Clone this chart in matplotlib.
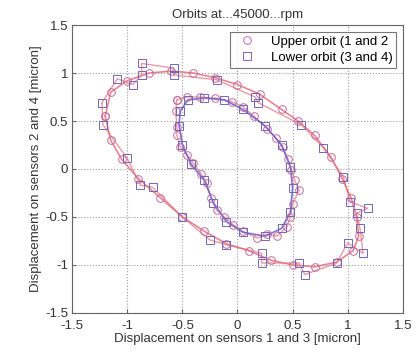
import matplotlib
matplotlib.use("Agg")
import matplotlib.pyplot as plt

# Upper orbit (sensors 1 and 2) - outer and inner loops
upper_outer_x = [-1.20, -1.15, -1.00, -0.80, -0.60, -0.40, -0.20, 0.00, 0.20, 0.40, 0.55, 0.70, 0.85, 0.95, 1.03, 1.08, 1.10, 1.05, 0.90, 0.70, 0.50, 0.30, 0.10, -0.10, -0.30, -0.50, -0.70, -0.90, -1.05, -1.15, -1.20]
upper_outer_y = [0.55, 0.80, 0.92, 1.00, 1.02, 1.00, 0.95, 0.88, 0.78, 0.62, 0.50, 0.35, 0.12, -0.10, -0.30, -0.50, -0.70, -0.85, -0.97, -1.02, -1.00, -0.95, -0.85, -0.78, -0.65, -0.50, -0.30, -0.10, 0.10, 0.30, 0.55]
upper_inner_x = [-0.55, -0.46, -0.34, -0.20, -0.05, 0.05, 0.15, 0.27, 0.35, 0.41, 0.46, 0.49, 0.52, 0.56, 0.50, 0.48, 0.45, 0.36, 0.27, 0.18, 0.05, -0.04, -0.12, -0.19, -0.24, -0.28, -0.33, -0.40, -0.46, -0.52, -0.55, -0.55, -0.56, -0.55]
upper_inner_y = [0.72, 0.75, 0.75, 0.74, 0.70, 0.65, 0.55, 0.42, 0.32, 0.23, 0.10, -0.01, -0.12, -0.22, -0.36, -0.50, -0.60, -0.70, -0.68, -0.72, -0.65, -0.58, -0.50, -0.43, -0.30, -0.15, -0.05, 0.06, 0.15, 0.23, 0.35, 0.44, 0.60, 0.72]

# Lower orbit (sensors 3 and 4) - outer and inner loops
lower_outer_x = [-1.23, -1.09, -0.95, -0.87, -0.87, -0.58, -0.58, -0.19, 0.16, 0.19, 0.58, 0.78, 0.96, 1.02, 1.18, 1.08, 1.11, 1.14, 1.00, 0.90, 0.61, 0.56, 0.22, 0.22, -0.10, -0.25, -0.50, -0.77, -0.88, -1.00, -1.22, -1.23]
lower_outer_y = [0.69, 0.94, 0.88, 0.98, 1.10, 1.05, 0.98, 0.93, 0.75, 0.69, 0.46, 0.22, -0.08, -0.34, -0.41, -0.46, -0.61, -0.88, -0.77, -0.98, -1.10, -0.98, -0.98, -0.88, -0.79, -0.74, -0.50, -0.19, -0.17, 0.11, 0.46, 0.69]
lower_inner_x = [-0.52, -0.45, -0.30, -0.12, 0.05, 0.25, 0.40, 0.48, 0.50, 0.48, 0.40, 0.25, 0.05, -0.10, -0.22, -0.30, -0.42, -0.50, -0.53, -0.52]
lower_inner_y = [0.60, 0.72, 0.74, 0.72, 0.62, 0.45, 0.25, 0.02, -0.20, -0.45, -0.62, -0.70, -0.66, -0.55, -0.35, -0.12, 0.05, 0.25, 0.45, 0.60]

title = "Orbits at...45000...rpm"
xlabel = "Displacement on sensors 1 and 3 [micron]"
ylabel = "Displacement on sensors 2 and 4 [micron]"
ticks = [-1.5, -1, -0.5, 0, 0.5, 1, 1.5]
tick_labels = ["-1.5", "-1", "-0.5", "0", "0.5", "1", "1.5"]

plt.rcParams['font.family'] = ['Liberation Sans', 'DejaVu Sans']
fig = plt.figure(figsize=(4.17, 3.58), dpi=100)
ax = fig.add_axes([0.173, 0.126, 0.793, 0.804])

circ_col = "#c86a9a"
sq_col = "#7565b5"
red_line = "#e07080"
blue_line = "#5a5ad0"

ax.plot(upper_outer_x, upper_outer_y, color=red_line, lw=1.2, alpha=0.85, zorder=2)
ax.plot(lower_outer_x, lower_outer_y, color=red_line, lw=1.0, alpha=0.7, zorder=2)
ax.plot(upper_inner_x, upper_inner_y, color=red_line, lw=1.0, alpha=0.7, zorder=2)
ax.plot(lower_inner_x, lower_inner_y, color=blue_line, lw=1.2, alpha=0.85, zorder=2)

ax.plot(upper_outer_x + upper_inner_x, upper_outer_y + upper_inner_y, 'o', ls='none',
        mfc='none', mec=circ_col, ms=5.5, mew=0.7, label="Upper orbit (1 and 2", zorder=3)
ax.plot(lower_outer_x + lower_inner_x, lower_outer_y + lower_inner_y, 's', ls='none',
        mfc='none', mec=sq_col, ms=6, mew=0.7, label="Lower orbit (3 and 4)", zorder=3)

fs = 9.5
ax.set_xlim(-1.5, 1.5)
ax.set_ylim(-1.5, 1.5)
ax.set_xticks(ticks)
ax.set_xticklabels(tick_labels)
ax.set_yticks(ticks)
ax.set_yticklabels(tick_labels)
ax.grid(True, ls=':', color='#999999', lw=0.8)
ax.tick_params(labelsize=fs, direction='in', length=3, color='#666666', labelcolor='#333333')
ax.tick_params(axis='x', pad=5)
ax.tick_params(axis='y', pad=3)
for s in ax.spines.values():
    s.set_color('#666666')
    s.set_linewidth(0.8)

ax.set_title(title, fontsize=fs, color='#333333', pad=5)
ax.set_xlabel(xlabel, fontsize=fs, color='#333333', labelpad=1)
ax.set_ylabel(ylabel, fontsize=fs, color='#333333', labelpad=2)

leg = ax.legend(loc='upper right', fontsize=fs, frameon=True, fancybox=False,
                edgecolor='#555555', borderpad=0.3, handletextpad=0.8, labelspacing=0.3,
                handlelength=2.0, borderaxespad=0.5)
leg.get_frame().set_linewidth(0.8)

fig.savefig("out.png", dpi=100)
